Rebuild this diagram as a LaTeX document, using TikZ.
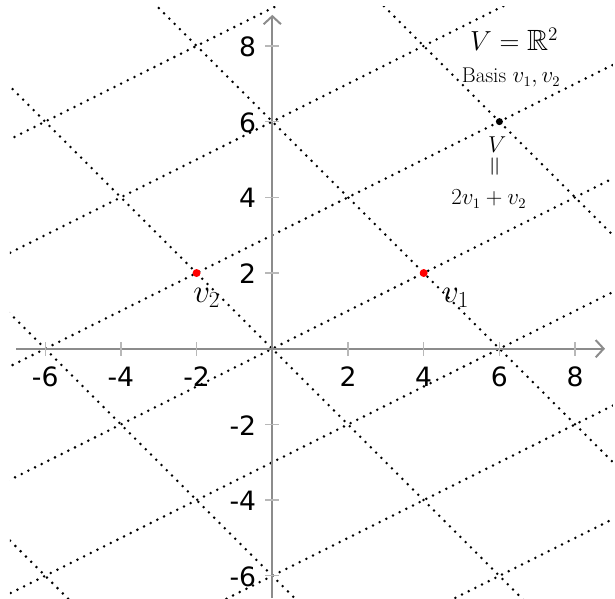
\documentclass[tikz,border=0pt]{standalone}
\usepackage{amssymb}
\usepackage{fontspec}
\newfontfamily\tickfont{DejaVu Sans}
\usetikzlibrary{arrows.meta}
\definecolor{axisgray}{gray}{0.55}
\definecolor{tickgray}{gray}{0.72}
\tikzset{
  latline/.style={line width=2.1pt, line cap=round, dash pattern=on 0pt off 5.6pt, black},
  axisline/.style={axisgray, line width=1.5pt, -{Straight Barb[length=6pt,width=13pt]}},
  tickline/.style={tickgray, line width=1pt},
  ticklab/.style={font=\tickfont\fontsize{20}{24}\selectfont, inner sep=0pt},
  vlab/.style={font=\fontsize{23}{27}\selectfont, inner sep=0pt},
  hand/.style={inner sep=0pt},
  dotpt/.style={circle, inner sep=0pt, minimum size=#1},
}
\begin{document}
\begin{tikzpicture}
\useasboundingbox (-7.194,-6.587) rectangle (9.054,9.213);
% lattice lines
\begin{scope}
\clip (-6.93,-6.587) rectangle (9.0,9.05);
\foreach \k in {-3,...,3} {
  \draw[latline] ({-2*\k-20},{2*\k-10}) -- ({-2*\k+20},{2*\k+10});
}
\foreach \m in {-3,...,3} {
  \draw[latline] ({4*\m+20},{2*\m-20}) -- ({4*\m-20},{2*\m+20});
}
\end{scope}
% axes
\coordinate (xs) at (-6.77,0);
\coordinate (xe) at (8.79,0);
\coordinate (ys) at (0,-6.587);
\coordinate (ye) at (0,8.82);
\draw[axisline] (xs) -- (xe);
\draw[axisline] (ys) -- (ye);
\foreach \x [count=\i] in {-6,-4,-2,2,4,6,8} {
  \draw[tickline] (\x,-0.185) -- (\x,0.185);
  \node[ticklab, anchor=base] (xl\i) at (\x,-1.01) {\x};
}
\foreach \y [count=\i] in {-6,-4,-2,2,4,6,8} {
  \draw[tickline] (-0.185,\y) -- (0.185,\y);
  \node[ticklab, anchor=base east] (yl\i) at (-0.42,{\y-0.28}) {\y};
}
% points
\node[dotpt=6pt, fill=red] (p1) at (4,2) {};
\node[dotpt=6pt, fill=red] (p2) at (-2,2) {};
\node[dotpt=5.3pt, fill=black] (p3) at (6,6) {};
\node[vlab, anchor=base west] (l1) at (4.48,1.23) {$v_1$};
\node[vlab, anchor=base west] (l2) at (-2.095,1.23) {$v_2$};
% annotations
\node[hand, anchor=base, font=\fontsize{22}{26}\selectfont] (t1) at (6.39,7.89) {$V=\mathbb{R}^2$};
\node[hand, anchor=base, font=\fontsize{16}{19}\selectfont] (t2) at (6.31,7.02) {Basis $v_1,v_2$};
\node[hand, anchor=base, font=\fontsize{18}{22}\selectfont] (t3) at (5.94,5.18) {$V$};
\node[hand, rotate=90, font=\fontsize{20}{24}\selectfont] (t4) at (5.93,4.80) {$=$};
\node[hand, anchor=base, font=\fontsize{16}{19}\selectfont] (t5) at (5.72,3.80) {$2v_1+v_2$};
\end{tikzpicture}
\end{document}
